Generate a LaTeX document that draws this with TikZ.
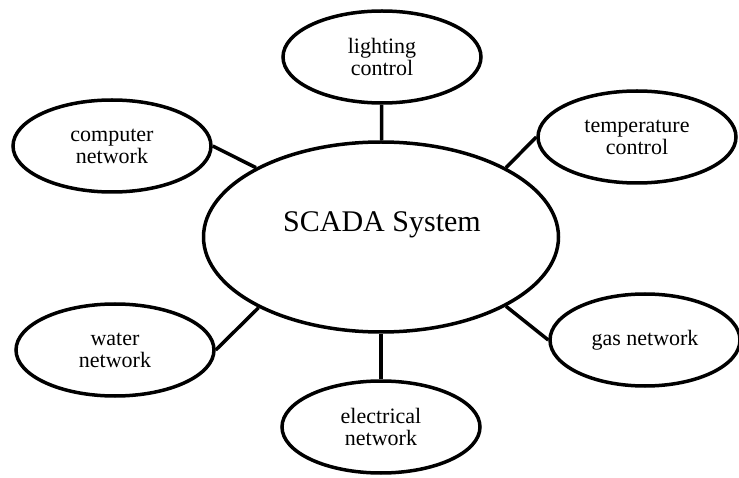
\documentclass[tikz,border=0pt]{standalone}
\usepackage{fontspec}
\setmainfont{Liberation Serif}
\usetikzlibrary{shapes.geometric}
\begin{document}
\begin{tikzpicture}[x=1pt,y=-1pt,
  bub/.style={ellipse,draw,line width=3.5pt,inner sep=0pt,minimum width=198pt,minimum height=92pt,align=center,font=\fontsize{22}{22}\selectfont},
  link/.style={line width=3.5pt}]
\useasboundingbox (0,0) rectangle (739,478);
\node[bub,minimum width=355pt,minimum height=190pt] (scada) at (381,237) {};
\node[font=\fontsize{30}{34}\selectfont,inner sep=0pt] (scadatext) at (382,225) {SCADA System};
\node[bub] (light) at (382,57) {lighting\\control};
\node[bub] (comp) at (112,146) {computer\\network};
\node[bub] (temp) at (637,137) {temperature\\control};
\node[bub] (water) at (115,350) {water\\network};
\node[bub,minimum width=190pt] (gas) at (645,340) {gas network};
\node[bub] (elec) at (381,427) {electrical\\network};
\draw[link] (light) -- (scada);
\draw[link] (elec) -- (scada);
\draw[link] (comp.east) -- (scada.151);
\draw[link] (water.east) -- (scada.210);
\draw[link] (temp.west) -- (scada.29);
\draw[link] (gas.west) -- (scada.-29);
\end{tikzpicture}
\end{document}
